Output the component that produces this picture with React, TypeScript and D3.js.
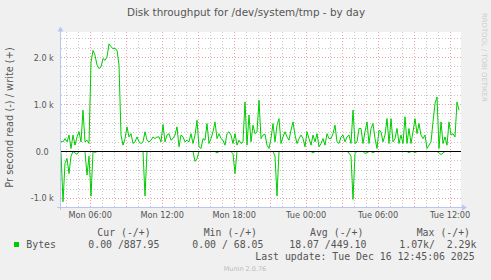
import React from 'react';
import * as d3 from 'd3';

const WIDTH = 491;
const HEIGHT = 280;

// write (+) bytes per second, one sample per 10 minutes
const writeValues = [
  220, 205, 275, 205, 350, 65, 350, 135, 310, 420,
  205, 880, 205, 240, 170, 1900, 2150, 2050, 1840, 1765,
  1800, 1980, 1940, 2010, 2290, 2230, 2190, 2190, 2155, 1840,
  350, 135, 275, 525, 310, 380, 170, 205, 310, 205,
  170, 205, 420, 240, 205, 240, 310, 275, 310, 310,
  205, 575, 205, 350, 380, 240, 275, 350, 525, 100,
  350, 310, 205, 240, 205, 380, 170, 350, 665, 100,
  65, 275, 240, 595, 170, 275, 420, 630, 275, 380,
  275, 240, 135, 380, 420, 350, 170, 380, 135, 240,
  170, 205, 1055, 135, 775, 205, 560, 380, 420, 1090,
  275, 350, 370, 135, 65, 275, 595, 205, 560, 700,
  170, 310, 420, 310, 240, 455, 630, 350, 170, 275,
  350, 275, 100, 420, 275, 135, 350, 205, 380, 100,
  170, 275, 135, 380, 275, 275, 380, 560, 205, 170,
  310, 350, 205, 310, 350, 170, 880, 170, 205, 490,
  490, 170, 420, 630, 170, 490, 595, 275, 65, 455,
  420, 205, 350, 700, 170, 700, 205, 275, 490, 170,
  350, 170, 740, 170, 490, 170, 420, 700, 380, 595,
  350, 275, 350, 65, 135, 205, 630, 1020, 1160, 65,
  630, 170, 310, 135, 630, 350, 380, 310, 1055, 880,
];

// read (-) bytes per second, drawn below zero
const readValues = [
  20, 1070, 250, 150, 470, 100, 0, 30, 60, 0,
  0, 0, 0, 500, 100, 950, 0, 20, 0, 0,
  0, 0, 0, 0, 0, 0, 0, 0, 0, 0,
  0, 0, 0, 0, 0, 0, 0, 0, 0, 0,
  0, 0, 945, 0, 0, 0, 0, 0, 0, 0,
  0, 0, 0, 0, 0, 0, 0, 0, 0, 0,
  0, 0, 0, 0, 0, 0, 0, 210, 150, 0,
  0, 0, 0, 0, 0, 0, 0, 0, 30, 0,
  0, 0, 0, 0, 0, 0, 50, 470, 0, 0,
  0, 0, 0, 0, 0, 0, 0, 0, 0, 0,
  0, 0, 0, 0, 0, 0, 0, 100, 945, 0,
  0, 0, 0, 0, 0, 0, 0, 0, 0, 0,
  0, 0, 0, 0, 0, 0, 30, 0, 0, 0,
  0, 0, 0, 0, 0, 0, 0, 0, 0, 0,
  0, 0, 0, 0, 30, 100, 1020, 40, 0, 0,
  0, 0, 40, 30, 0, 0, 30, 0, 0, 0,
  0, 0, 0, 0, 0, 0, 0, 0, 0, 0,
  0, 0, 0, 0, 25, 0, 0, 25, 0, 0,
  0, 0, 0, 0, 0, 0, 0, 0, 0, 30,
  65, 30, 0, 0, 0, 0, 0, 0, 0, 0,
];

const yTickValues = [-1000, 0, 1000, 2000];
const yTickLabels = ['-1.0 k', '0.0', '1.0 k', '2.0 k'];
const legendHeaders = ['Cur (-/+)', 'Min (-/+)', 'Avg (-/+)', 'Max (-/+)'];
const legendValues = ['0.00 /887.95', '0.00 / 68.05', '18.07 /449.10', '1.07k/  2.29k'];
const seriesName = 'Bytes';
const titleText = 'Disk throughput for /dev/system/tmp - by day';
const yLabelText = 'Pr second read (-) / write (+)';
const lastUpdateText = 'Last update: Tue Dec 16 12:45:06 2025';
const versionText = 'Munin 2.0.76';
const watermarkText = 'RRDTOOL / TOBI OETIKER';

const startTime = new Date(2025, 11, 15, 3, 34, 0);
const stepSeconds = 600;
const spanSeconds = 400 * 300;

const PLOT = { left: 61, right: 461, top: 32, bottom: 207 };
const LINE_COLOR = '#00CC00';
const TEXT_COLOR = '#555555';
const AXIS_COLOR = '#BCC4F4';
const MINOR_GRID = '#C8C8C8';
const MAJOR_GRID = '#F2A0A0';

export default function App() {
  const endTime = new Date(startTime.getTime() + spanSeconds * 1000);
  const x = d3.scaleTime().domain([startTime, endTime]).range([PLOT.left, PLOT.right]);
  const y = d3.scaleLinear().domain([-1181, 2543]).range([PLOT.bottom, PLOT.top]);

  const timeAt = (i: number) => new Date(startTime.getTime() + i * stepSeconds * 1000);

  const writeLine = d3
    .line<number>()
    .x((_, i) => x(timeAt(i)))
    .y((v) => y(v));
  const readLine = d3
    .line<number>()
    .x((_, i) => x(timeAt(i)))
    .y((v) => y(-v));

  const hours = x.ticks(d3.timeHour.every(1) as any).filter((t) => {
    const px = x(t);
    return px > PLOT.left && px < PLOT.right;
  });
  const fmt = d3.timeFormat('%a %H:%M');

  const [yMin, yMax] = y.domain();
  const minorY = d3.range(-1000, 2600, 200).filter((v) => v % 1000 !== 0 && v > yMin && v < yMax);
  const majorY = yTickValues.filter((v) => v !== 0);

  const crisp = (v: number) => Math.round(v - 0.5) + 0.5;

  const legendHeaderX = [97.3, 203.7, 310, 416.7];
  const legendValueX = [88.3, 192.3, 289.3, 399.3];

  return (
    <svg
      width={WIDTH}
      height={HEIGHT}
      style={{ position: 'absolute', left: 0, top: 0, display: 'block' }}
      xmlns="http://www.w3.org/2000/svg"
    >
      <rect x={0} y={0} width={WIDTH} height={HEIGHT} fill="#F0F0F0" />
      <rect
        x={PLOT.left}
        y={PLOT.top}
        width={PLOT.right - PLOT.left}
        height={PLOT.bottom - PLOT.top}
        fill="#FFFFFF"
      />

      {/* minor horizontal grid */}
      {minorY.map((v) => (
        <line
          key={'mh' + v}
          x1={PLOT.left}
          x2={PLOT.right}
          y1={crisp(y(v))}
          y2={crisp(y(v))}
          stroke={MINOR_GRID}
          strokeWidth={1}
          strokeDasharray="1,2"
        />
      ))}
      {/* vertical grid */}
      {hours.map((t) => {
        const major = t.getHours() % 3 === 0;
        const px = crisp(x(t));
        return (
          <line
            key={'v' + t.getTime()}
            x1={px}
            x2={px}
            y1={PLOT.top}
            y2={PLOT.bottom}
            stroke={major ? MAJOR_GRID : MINOR_GRID}
            strokeWidth={1}
            strokeDasharray="1,2"
          />
        );
      })}
      {/* major horizontal grid */}
      {majorY.map((v) => (
        <line
          key={'Mh' + v}
          x1={PLOT.left}
          x2={PLOT.right}
          y1={crisp(y(v))}
          y2={crisp(y(v))}
          stroke={MAJOR_GRID}
          strokeWidth={1}
          strokeDasharray="1,2"
        />
      ))}

      {/* data */}
      <path d={writeLine(writeValues) || ''} fill="none" stroke={LINE_COLOR} strokeWidth={1} />
      <path d={readLine(readValues) || ''} fill="none" stroke={LINE_COLOR} strokeWidth={1} />

      {/* zero line */}
      <line
        x1={PLOT.left}
        x2={PLOT.right}
        y1={crisp(y(0))}
        y2={crisp(y(0))}
        stroke="#000000"
        strokeWidth={1}
      />

      {/* axes */}
      <line x1={60.5} x2={60.5} y1={PLOT.bottom + 3} y2={29} stroke={AXIS_COLOR} strokeWidth={1} />
      <polygon points="57.5,31.5 63.5,31.5 60.5,26.5" fill={AXIS_COLOR} />
      <line x1={57} x2={463} y1={207.5} y2={207.5} stroke={AXIS_COLOR} strokeWidth={1} />
      <polygon points="462,204.5 462,210.5 467,207.5" fill={AXIS_COLOR} />

      {/* y tick labels */}
      {yTickValues.map((v, i) => (
        <text
          key={'yl' + v}
          x={yTickLabels[i].endsWith('k') ? 53.8 : 48.6}
          y={y(v) + 3}
          textAnchor="end"
          fontFamily="DejaVu Sans"
          fontSize={8.1}
          fill={TEXT_COLOR}
        >
          {yTickLabels[i]}
        </text>
      ))}

      {/* x tick labels */}
      {hours
        .filter((t) => t.getHours() % 6 === 0)
        .map((t) => (
          <text
            key={'xl' + t.getTime()}
            x={x(t)}
            y={218.3}
            textAnchor="middle"
            fontFamily="DejaVu Sans"
            fontSize={8.2}
            fill={TEXT_COLOR}
          >
            {fmt(t)}
          </text>
        ))}

      {/* title */}
      <text
        x={246}
        y={15.5}
        textAnchor="middle"
        fontFamily="DejaVu Sans"
        fontSize={10.4}
        fill={TEXT_COLOR}
      >
        {titleText}
      </text>

      {/* y axis label */}
      <text
        transform="translate(12.5,117.5) rotate(-90)"
        textAnchor="middle"
        fontFamily="DejaVu Sans"
        fontSize={9.8}
        fill={TEXT_COLOR}
      >
        {yLabelText}
      </text>

      {/* watermark */}
      <text
        transform="translate(481.5,13) rotate(90)"
        textAnchor="start"
        fontFamily="DejaVu Sans"
        fontSize={6.9}
        fill="#CCCCCC"
      >
        {watermarkText}
      </text>

      {/* legend */}
      {legendHeaders.map((h, i) => (
        <text
          key={'lh' + i}
          x={legendHeaderX[i]}
          y={236}
          fontFamily="DejaVu Sans Mono"
          fontSize={9.85}
          fill={TEXT_COLOR}
          style={{ whiteSpace: 'pre' }}
        >
          {h}
        </text>
      ))}
      <rect x={14} y={242} width={5} height={5} fill={LINE_COLOR} />
      <text x={26.3} y={247.5} fontFamily="DejaVu Sans Mono" fontSize={9.85} fill={TEXT_COLOR}>
        {seriesName}
      </text>
      {legendValues.map((v, i) => (
        <text
          key={'lv' + i}
          x={legendValueX[i]}
          y={247.5}
          fontFamily="DejaVu Sans Mono"
          fontSize={9.85}
          fill={TEXT_COLOR}
          style={{ whiteSpace: 'pre' }}
        >
          {v}
        </text>
      ))}
      <text
        x={255.3}
        y={259.5}
        fontFamily="DejaVu Sans Mono"
        fontSize={9.85}
        fill={TEXT_COLOR}
        style={{ whiteSpace: 'pre' }}
      >
        {lastUpdateText}
      </text>
      <text
        x={245}
        y={270.5}
        textAnchor="middle"
        fontFamily="DejaVu Sans"
        fontSize={6.5}
        fill="#BBBBBB"
      >
        {versionText}
      </text>
    </svg>
  );
}
